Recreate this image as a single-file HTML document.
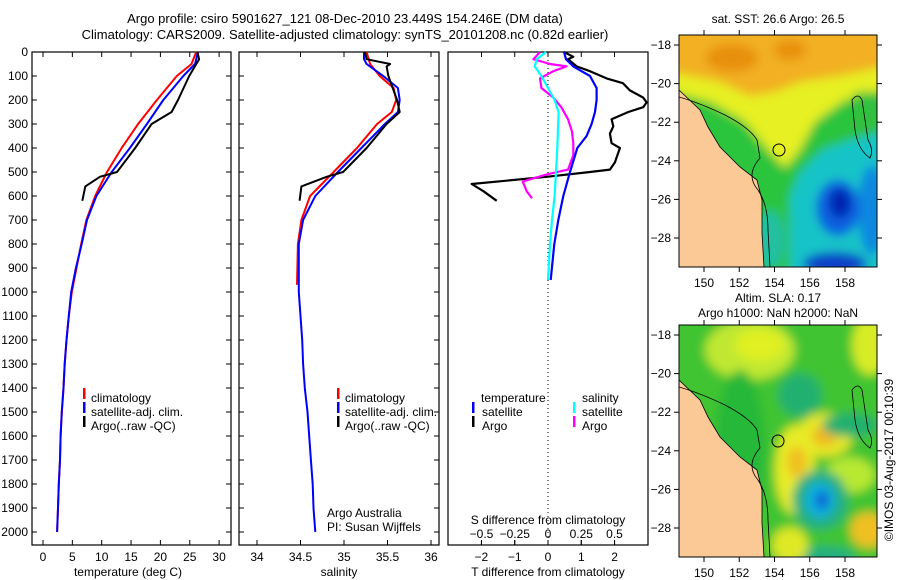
<!DOCTYPE html>
<html><head><meta charset="utf-8"><style>
html,body{margin:0;padding:0;background:#fff;}
svg{display:block;font-family:"Liberation Sans",sans-serif;}
</style></head><body>
<svg id="fig" width="900" height="580" viewBox="0 0 900 580" xmlns="http://www.w3.org/2000/svg">
<defs>
<filter id="blur" x="-10%" y="-10%" width="120%" height="120%"><feGaussianBlur stdDeviation="5"/></filter>
<clipPath id="clip1"><rect x="679" y="35" width="198" height="232"/></clipPath>
<clipPath id="clip2"><rect x="679" y="325" width="198" height="232"/></clipPath>
</defs>
<text x="345" y="23" font-size="13" text-anchor="middle">Argo profile: csiro 5901627_121 08-Dec-2010 23.449S 154.246E (DM data)</text>
<text x="345" y="39" font-size="13" text-anchor="middle">Climatology: CARS2009. Satellite-adjusted climatology: synTS_20101208.nc (0.82d earlier)</text>

<g id="p1"></g>
<g id="p2"></g>
<g id="p3"></g>

<!-- SST map -->
<g>
<text x="778" y="23" font-size="12" text-anchor="middle">sat. SST: 26.6 Argo: 26.5</text>
<g clip-path="url(#clip1)">
<g filter="url(#blur)">
<rect x="670" y="25" width="220" height="250" fill="#2cc43c"/>
<polygon points="670,25 890,25 890,90 845,100 815,122 800,150 785,168 768,150 745,122 710,102 670,92" fill="#e6f020"/>
<polygon points="670,25 890,25 890,65 845,75 800,82 775,92 750,96 720,82 670,72" fill="#f2b020"/>
<ellipse cx="732" cy="58" rx="26" ry="14" fill="#e89010"/>
<ellipse cx="790" cy="50" rx="16" ry="10" fill="#e89010"/>
<polygon points="855,92 890,92 890,142 850,132" fill="#30c040"/>
<polygon points="790,195 800,172 822,150 850,140 890,130 890,275 790,275" fill="#18c4c8"/>
<ellipse cx="872" cy="210" rx="14" ry="45" fill="#1088e0"/>
<ellipse cx="838" cy="208" rx="22" ry="28" fill="#1060e0"/>
<ellipse cx="840" cy="203" rx="11" ry="15" fill="#0024b0"/>
<ellipse cx="835" cy="264" rx="32" ry="12" fill="#1040c8"/>
<ellipse cx="770" cy="240" rx="15" ry="30" fill="#20c0a0"/>
</g>
<polygon points="679,90 700,110 708,127 720,147 740,167 757,180 762,200 762,233 764,267 679,267" fill="#fac996" stroke="#000" stroke-width="0.8"/>
<path d="M679,97 Q700,103 725,115 Q750,128 757,140 L760,158 Q745,175 758,190 Q768,205 768,230 L770,267" fill="none" stroke="#000" stroke-width="0.8"/>
<path d="M852,100 Q858,92 862,100 L868,140 Q874,150 870,158 Q858,150 855,130 Z" fill="none" stroke="#000" stroke-width="0.8"/>
<circle cx="779" cy="150" r="6" fill="none" stroke="#000" stroke-width="1"/>
</g>
<rect x="679" y="35" width="198" height="232" fill="none" stroke="#000" stroke-width="1"/>
</g>

<!-- SLA map -->
<g>
<text x="778" y="302" font-size="12" text-anchor="middle">Altim. SLA: 0.17</text>
<text x="778" y="317" font-size="12" text-anchor="middle">Argo h1000: NaN h2000: NaN</text>
<g clip-path="url(#clip2)">
<g filter="url(#blur)">
<rect x="670" y="315" width="220" height="250" fill="#40c430"/>
<ellipse cx="750" cy="350" rx="45" ry="30" fill="#c0e830"/>
<ellipse cx="760" cy="345" rx="25" ry="16" fill="#e0f020"/>
<ellipse cx="870" cy="345" rx="18" ry="30" fill="#d8ec28"/>
<ellipse cx="800" cy="395" rx="22" ry="22" fill="#20b070"/>
<ellipse cx="825" cy="435" rx="28" ry="22" fill="#e8e828"/>
<ellipse cx="825" cy="436" rx="13" ry="10" fill="#f0b820"/>
<ellipse cx="795" cy="470" rx="20" ry="45" fill="#e8ec28"/>
<ellipse cx="797" cy="462" rx="10" ry="16" fill="#f0c020"/>
<ellipse cx="850" cy="425" rx="28" ry="12" fill="#20b070"/>
<ellipse cx="850" cy="475" rx="25" ry="18" fill="#b8e830"/>
<ellipse cx="820" cy="500" rx="28" ry="30" fill="#20b080"/>
<ellipse cx="820" cy="500" rx="15" ry="18" fill="#10b0e0"/>
<ellipse cx="822" cy="500" rx="6" ry="9" fill="#1050d0"/>
<ellipse cx="868" cy="530" rx="18" ry="18" fill="#f0c020"/>
<ellipse cx="825" cy="558" rx="30" ry="12" fill="#20b080"/>
<ellipse cx="790" cy="545" rx="18" ry="18" fill="#e0e828"/>
<ellipse cx="740" cy="450" rx="25" ry="80" fill="#28b838"/>
</g>
<polygon points="679,380 700,400 708,417 720,437 740,457 757,470 762,490 762,523 764,557 679,557" fill="#fac996" stroke="#000" stroke-width="0.8"/>
<path d="M679,387 Q700,393 725,405 Q750,418 757,430 L760,448 Q745,465 758,480 Q768,495 768,520 L770,557" fill="none" stroke="#000" stroke-width="0.8"/>
<path d="M852,390 Q858,382 862,390 L868,430 Q874,440 870,448 Q858,440 855,420 Z" fill="none" stroke="#000" stroke-width="0.8"/>
<circle cx="778" cy="441" r="6" fill="none" stroke="#000" stroke-width="1"/>
</g>
<rect x="679" y="325" width="198" height="232" fill="none" stroke="#000" stroke-width="1"/>
</g>
<g id="mapaxes"></g>
<text transform="translate(893,460) rotate(-90)" font-size="12" text-anchor="middle">©IMOS 03-Aug-2017 00:10:39</text>
</svg>
<script>
// ---- data ----
var tDepthArgo = [0,30,100,200,250,300,400,500,520,560,620];
var tArgo = [26.3,26.6,24.9,23.0,21.9,18.5,15.7,12.6,9.7,7.2,6.7];
var climDepth = [0,50,100,200,300,400,500,600,700,800,900,1000,1100,1200,1300,1400,1500,1600,1700,1800,1900,2000];
var tClim = [26.1,25.3,22.8,19.4,16.2,13.4,10.9,8.9,7.4,6.5,5.7,4.9,4.4,4.0,3.7,3.5,3.2,3.0,2.9,2.7,2.55,2.4];
var tSat = [26.4,25.9,23.9,20.5,17.7,14.8,11.7,9.1,7.5,6.6,5.6,4.8,4.4,4.0,3.7,3.5,3.2,3.0,2.9,2.7,2.55,2.4];
var sDepthArgo = [0,30,50,60,100,150,200,250,300,400,500,520,560,620];
var sArgo = [35.24,35.26,35.53,35.49,35.51,35.56,35.61,35.64,35.49,35.26,34.99,34.80,34.51,34.49];
var sClimDepth = [0,50,100,150,200,250,300,400,500,600,700,800,970];
var sClim = [35.26,35.30,35.41,35.57,35.60,35.55,35.38,35.15,34.88,34.61,34.51,34.47,34.46];
var sSatDepth = [0,30,50,100,150,200,250,300,400,500,600,700,800,1000,1100,1200,1300,1400,1500,1600,1700,1800,1900,2000];
var sSat = [35.23,35.23,35.26,35.45,35.62,35.64,35.62,35.47,35.2,34.93,34.67,34.53,34.48,34.48,34.5,34.52,34.53,34.55,34.58,34.60,34.62,34.64,34.65,34.67];
var dTArgoDepth = [0,20,30,60,80,110,130,160,190,210,230,250,280,310,340,380,400,460,490,500,520,550,580,620];
var dTArgo = [0.48,0.76,0.6,0.86,1.26,1.76,2.25,2.46,2.86,2.96,2.86,2.41,1.91,1.96,1.86,1.91,2.16,2.01,1.86,1.26,-0.04,-2.29,-1.94,-1.54];
var dSArgoDepth = [0,30,50,60,80,110,150,190,230,280,330,380,430,490,510,540,580,610];
var dSArgo = [-0.06,-0.11,0.015,0.14,0.04,-0.06,-0.05,0.04,0.10,0.15,0.18,0.19,0.19,0.15,-0.01,-0.19,-0.16,-0.12];
var dSSatDepth = [0,30,60,100,150,200,250,400,500,600,700,800,950];
var dSSat = [-0.015,-0.085,-0.10,-0.05,0.0,0.05,0.08,0.07,0.06,0.05,0.03,0.015,0.0];
var dTSatDepth = [0,30,60,100,150,200,250,300,350,400,500,600,700,800,950];
var dTSat = [0.48,0.54,0.76,1.26,1.46,1.46,1.41,1.31,1.16,0.88,0.66,0.46,0.31,0.19,0.08];
var depthTicks = [0,100,200,300,400,500,600,700,800,900,1000,1100,1200,1300,1400,1500,1600,1700,1800,1900,2000];
var tempTicks = [0,5,10,15,20,25,30];
var salTicks = [34,34.5,35,35.5,36];
var salTickLabels = ["34","34.5","35","35.5","36"];
var dTTicks = [-2,-1,0,1,2];
var dSTicks = [-0.5,-0.25,0,0.25,0.5];
var dSTickLabels = ["\u22120.5","\u22120.25","0","0.25","0.5"];
var latTicks = [-18,-20,-22,-24,-26,-28];
var lonTicks = [150,152,154,156,158];

// ---- axes ----
function yD(d){return 52+d*0.24;}
function xT(t){return 43+t*5.87;}
function xS(s){return 257+(s-34)*87;}
function xdT(v){return 548+v*33.3;}
function xdS(v){return 548+v*133;}
function latY1(l){return 45+(-18-l)*19.3;}
function lonX(l){return 704+(l-150)*17.625;}

var NS="http://www.w3.org/2000/svg";
function mk(tag,attrs,parent){var e=document.createElementNS(NS,tag);for(var k in attrs)e.setAttribute(k,attrs[k]);parent.appendChild(e);return e;}
function line(parent,xs,ys,color,w,name){
  var d="";for(var i=0;i<xs.length;i++)d+=(i?"L":"M")+xs[i].toFixed(1)+","+ys[i].toFixed(1);
  var p=mk("path",{d:d,fill:"none",stroke:color,"stroke-width":w,"stroke-linejoin":"round"},parent);
  
  
}
function txt(parent,x,y,s,anchor,name,size){
  var t=mk("text",{x:x,y:y,"font-size":size||12,"text-anchor":anchor||"start"},parent);t.textContent=s;
  
  
  return t;
}
function frame(parent,x0,x1,name){
  var r=mk("rect",{x:x0,y:52,width:x1-x0,height:493,fill:"none",stroke:"#000","stroke-width":1.2},parent);
  
  
  depthTicks.forEach(function(d){
    mk("line",{x1:x0,x2:x0+5,y1:yD(d),y2:yD(d),stroke:"#000"},parent);
    mk("line",{x1:x1,x2:x1-5,y1:yD(d),y2:yD(d),stroke:"#000"},parent);
  });
}
function legendMark(parent,x,y,color,name){
  var r=mk("rect",{x:x,y:y-10,width:2.5,height:11,fill:color},parent);
  
  
}

// Panel 1
var p1=document.getElementById("p1");
frame(p1,32,231,"temperature-frame");
depthTicks.forEach(function(d){txt(p1,28,yD(d)+4,String(d),"end","depth-tick-label");});
tempTicks.forEach(function(t){
  mk("line",{x1:xT(t),x2:xT(t),y1:545,y2:540,stroke:"#000"},p1);
  mk("line",{x1:xT(t),x2:xT(t),y1:52,y2:57,stroke:"#000"},p1);
  txt(p1,xT(t),561,String(t),"middle","temperature-tick-label");
});
txt(p1,128,576,"temperature (deg C)","middle","x-axis-title-temperature");
line(p1,climDepth.map(function(d,i){return xT(tClim[i]);}),climDepth.map(yD),"#f00",2,"temperature-climatology-line");
line(p1,climDepth.map(function(d,i){return xT(tSat[i]);}),climDepth.map(yD),"#00f",2,"temperature-satellite-line");
line(p1,tDepthArgo.map(function(d,i){return xT(tArgo[i]);}),tDepthArgo.map(yD),"#000",2,"temperature-argo-line");
legendMark(p1,83,398,"#f00","legend-climatology-mark");
legendMark(p1,83,412,"#00f","legend-satellite-mark");
legendMark(p1,83,426,"#000","legend-argo-mark");
txt(p1,91,402,"climatology","start","legend-climatology");
txt(p1,91,416,"satellite-adj. clim.","start","legend-satellite");
txt(p1,91,430,"Argo(..raw -QC)","start","legend-argo");

// Panel 2
var p2=document.getElementById("p2");
frame(p2,239,439,"salinity-frame");
salTicks.forEach(function(s,i){
  mk("line",{x1:xS(s),x2:xS(s),y1:545,y2:540,stroke:"#000"},p2);
  mk("line",{x1:xS(s),x2:xS(s),y1:52,y2:57,stroke:"#000"},p2);
  txt(p2,xS(s),561,salTickLabels[i],"middle","salinity-tick-label");
});
txt(p2,339,576,"salinity","middle","x-axis-title-salinity");
line(p2,sClimDepth.map(function(d,i){return xS(sClim[i]);}),sClimDepth.map(yD),"#f00",2,"salinity-climatology-line");
line(p2,sSatDepth.map(function(d,i){return xS(sSat[i]);}),sSatDepth.map(yD),"#00f",2,"salinity-satellite-line");
line(p2,sDepthArgo.map(function(d,i){return xS(sArgo[i]);}),sDepthArgo.map(yD),"#000",2,"salinity-argo-line");
legendMark(p2,337,398,"#f00","legend-climatology-mark");
legendMark(p2,337,412,"#00f","legend-satellite-mark");
legendMark(p2,337,426,"#000","legend-argo-mark");
txt(p2,345,402,"climatology","start","legend-climatology");
txt(p2,345,416,"satellite-adj. clim.","start","legend-satellite");
txt(p2,345,430,"Argo(..raw -QC)","start","legend-argo");
txt(p2,327,517,"Argo Australia","start","credit-argo-australia");
txt(p2,327,531,"PI: Susan Wijffels","start","credit-pi");

// Panel 3
var p3=document.getElementById("p3");
var r3=mk("rect",{x:448,y:52,width:200,height:493,fill:"none",stroke:"#000","stroke-width":1.2},p3);


mk("line",{x1:xdT(0),x2:xdT(0),y1:52,y2:545,stroke:"#000","stroke-dasharray":"1,3"},p3);
dSTicks.forEach(function(s,i){
  mk("line",{x1:xdS(s),x2:xdS(s),y1:52,y2:57,stroke:"#000"},p3);
  mk("line",{x1:xdS(s),x2:xdS(s),y1:545,y2:540,stroke:"#000"},p3);
  txt(p3,xdS(s),538,dSTickLabels[i],"middle","s-diff-tick-label");
});
dTTicks.forEach(function(t){
  mk("line",{x1:xdT(t),x2:xdT(t),y1:545,y2:540,stroke:"#000"},p3);
  txt(p3,xdT(t),561,t<0?"\u2212"+(-t):String(t),"middle","t-diff-tick-label");
});
txt(p3,548,524,"S difference from climatology","middle","s-diff-axis-title");
txt(p3,548,576,"T difference from climatology","middle","t-diff-axis-title");
line(p3,dTArgoDepth.map(function(d,i){return xdT(dTArgo[i]);}),dTArgoDepth.map(yD),"#000",2.2,"t-diff-argo-line");
line(p3,dSArgoDepth.map(function(d,i){return xdS(dSArgo[i]);}),dSArgoDepth.map(yD),"#f0f",2.2,"s-diff-argo-line");
line(p3,dTSatDepth.map(function(d,i){return xdT(dTSat[i]);}),dTSatDepth.map(yD),"#00f",2.2,"t-diff-satellite-line");
line(p3,dSSatDepth.map(function(d,i){return xdS(dSSat[i]);}),dSSatDepth.map(yD),"#0ff",2.2,"s-diff-satellite-line");
txt(p3,481,402,"temperature","start","legend-temperature-header");
txt(p3,582,402,"salinity","start","legend-salinity-header");
legendMark(p3,472,412,"#00f","legend-t-satellite-mark");
legendMark(p3,472,426,"#000","legend-t-argo-mark");
legendMark(p3,573,412,"#0ff","legend-s-satellite-mark");
legendMark(p3,573,426,"#f0f","legend-s-argo-mark");
txt(p3,482,416,"satellite","start","legend-t-satellite");
txt(p3,482,430,"Argo","start","legend-t-argo");
txt(p3,582,416,"satellite","start","legend-s-satellite");
txt(p3,582,430,"Argo","start","legend-s-argo");

// Map axes
var ma=document.getElementById("mapaxes");
[0,290].forEach(function(off){
  latTicks.forEach(function(l){
    var y=latY1(l)+off;
    mk("line",{x1:679,x2:674,y1:y,y2:y,stroke:"#000"},ma);
    mk("line",{x1:877,x2:882,y1:y,y2:y,stroke:"#000"},ma);
    txt(ma,671,y+4,"\u2212"+(-l),"end","latitude-tick-label");
  });
  lonTicks.forEach(function(l){
    var x=lonX(l);
    mk("line",{x1:x,x2:x,y1:35+off,y2:30+off,stroke:"#000"},ma);
    mk("line",{x1:x,x2:x,y1:267+off,y2:272+off,stroke:"#000"},ma);
  });
});
lonTicks.forEach(function(l){
  txt(ma,lonX(l),287,String(l),"middle","longitude-tick-label");
  txt(ma,lonX(l),577,String(l),"middle","longitude-tick-label");
});
</script>
</body></html>
